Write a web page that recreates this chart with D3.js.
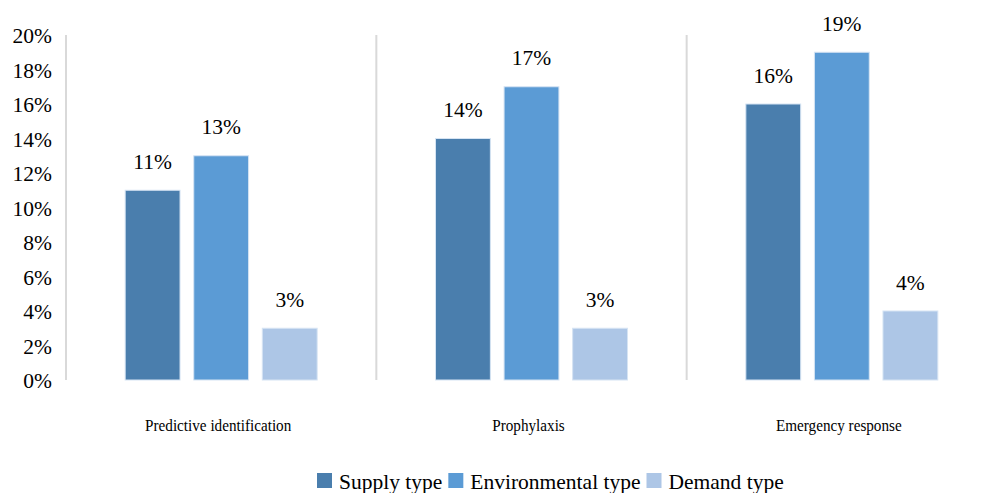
<!DOCTYPE html>
<html>
<head>
<meta charset="utf-8">
<script src="https://cdn.jsdelivr.net/npm/d3@7"></script>
<style>
  html, body { margin: 0; padding: 0; background: #fff; }
  svg { display: block; font-family: "Liberation Serif", "Times New Roman", serif; }
</style>
</head>
<body>
<svg id="chart" width="982" height="493"></svg>
<script>
const categories = ["Predictive identification", "Prophylaxis", "Emergency response"];
const seriesNames = ["Supply type", "Environmental type", "Demand type"];
const supplyValues = [0.11, 0.14, 0.16];
const environmentalValues = [0.13, 0.17, 0.19];
const demandValues = [0.03, 0.03, 0.04];
const yTicks = [0, 0.02, 0.04, 0.06, 0.08, 0.10, 0.12, 0.14, 0.16, 0.18, 0.20];
const colors = ["#4a7ead", "#5b9bd5", "#adc6e6"];

const seriesValues = [supplyValues, environmentalValues, demandValues];

const svg = d3.select("#chart");

const x0 = d3.scaleBand().domain(categories).range([66, 997]).padding(0);
const x1 = d3.scaleBand().domain(seriesNames).range([0, x0.bandwidth()])
  .paddingInner(0.2).paddingOuter(0.863);
const y = d3.scaleLinear().domain([0, 0.2]).range([380, 35]);
const color = d3.scaleOrdinal().domain(seriesNames).range(colors);
const fmt = d3.format(".0%");

// Axis line and category separators
const gridColor = "#d9d9d9";
svg.append("line")
  .attr("x1", 66).attr("x2", 66)
  .attr("y1", y(0.2)).attr("y2", y(0))
  .attr("stroke", gridColor).attr("stroke-width", 2);
categories.slice(1).forEach(c => {
  const xx = x0(c);
  svg.append("line")
    .attr("x1", xx).attr("x2", xx)
    .attr("y1", y(0.2)).attr("y2", y(0))
    .attr("stroke", gridColor).attr("stroke-width", 2);
});

// Y axis
const yAxis = d3.axisLeft(y).tickValues(yTicks).tickFormat(fmt).tickSize(0).tickPadding(14);
const yg = svg.append("g").attr("transform", "translate(66,0)").call(yAxis);
yg.select(".domain").remove();
yg.selectAll("text")
  .attr("font-family", "Liberation Serif, Times New Roman, serif")
  .attr("font-size", 21.5)
  .attr("fill", "#000")
  .attr("dy", "0.36em");

// Bars
const data = [];
categories.forEach((c, i) => {
  seriesNames.forEach((s, j) => {
    data.push({ cat: c, ser: s, val: seriesValues[j][i] });
  });
});

const bars = svg.append("g");
bars.selectAll("rect").data(data).join("rect")
  .attr("x", d => x0(d.cat) + x1(d.ser))
  .attr("y", d => y(d.val))
  .attr("width", x1.bandwidth())
  .attr("height", d => y(0) - y(d.val))
  .attr("fill", d => color(d.ser))
  .attr("stroke", "#d6e4f3")
  .attr("stroke-width", 1);

// Value labels
svg.append("g").selectAll("text").data(data).join("text")
  .attr("x", d => x0(d.cat) + x1(d.ser) + x1.bandwidth() / 2)
  .attr("y", d => y(d.val) - 21.5)
  .attr("text-anchor", "middle")
  .attr("font-size", 21.5)
  .attr("fill", "#000")
  .text(d => fmt(d.val));

// Category labels
svg.append("g").selectAll("text").data(categories).join("text")
  .attr("transform", d => `translate(${x0(d) + x0.bandwidth() / 2 - 3},431) scale(0.92,1)`)
  .attr("text-anchor", "middle")
  .attr("font-size", 16.5)
  .attr("fill", "#000")
  .text(d => d);

// Legend
const legend = svg.append("g");
let lx = 317;
seriesNames.forEach((s, i) => {
  legend.append("rect")
    .attr("x", lx).attr("y", 473)
    .attr("width", 15).attr("height", 15)
    .attr("fill", color(s));
  const t = legend.append("text")
    .attr("x", lx + 22).attr("y", 489)
    .attr("font-size", 21.5)
    .attr("fill", "#000")
    .text(s);
  lx = lx + 22 + t.node().getComputedTextLength() + 6;
});
</script>
</body>
</html>
